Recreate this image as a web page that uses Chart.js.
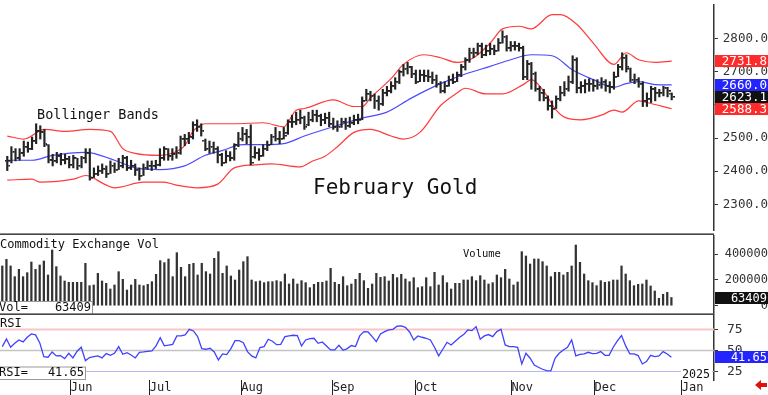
<!DOCTYPE html>
<html>
<head>
<meta charset="utf-8">
<script src="https://cdn.jsdelivr.net/npm/chart.js@4.4.1/dist/chart.umd.min.js"></script>
<style>
  html, body { margin: 0; padding: 0; background: #fff; }
  #wrap { position: relative; width: 768px; height: 395px; overflow: hidden; background: #fff; }
  #wrap canvas { position: absolute; left: 0; }
</style>
</head>
<body>
<div id="wrap">
  <canvas id="priceChart" width="768" height="235" style="top:0px"></canvas>
  <canvas id="volChart" width="768" height="80" style="top:235px"></canvas>
  <canvas id="rsiChart" width="768" height="80" style="top:315px"></canvas>
</div>
<script>
// --- DATA (one entry per trading day, index 0 = early May 2024) ---
const highs = [
  2445, 2474, 2468, 2468, 2491, 2488, 2503, 2543, 2537, 2526,
  2480, 2451, 2457, 2454, 2451, 2445, 2448, 2439, 2445, 2468,
  2468, 2410, 2416, 2422, 2416, 2431, 2425, 2439, 2448, 2445,
  2433, 2422, 2410, 2422, 2431, 2431, 2433, 2468, 2474, 2468,
  2468, 2474, 2506, 2511, 2517, 2549, 2555, 2543, 2497, 2491,
  2488, 2474, 2454, 2462, 2459, 2483, 2517, 2532, 2526, 2540,
  2474, 2468, 2480, 2491, 2511, 2532, 2520, 2532, 2555, 2569,
  2578, 2584, 2566, 2578, 2584, 2584, 2572, 2575, 2578, 2560,
  2552, 2560, 2560, 2563, 2569, 2572, 2624, 2647, 2641, 2633,
  2627, 2647, 2656, 2670, 2682, 2705, 2722, 2728, 2716, 2705,
  2705, 2705, 2705, 2699, 2690, 2670, 2670, 2687, 2693, 2699,
  2722, 2742, 2771, 2771, 2786, 2786, 2780, 2786, 2780, 2800,
  2823, 2809, 2791, 2791, 2786, 2777, 2734, 2728, 2699, 2656,
  2647, 2627, 2612, 2627, 2656, 2670, 2687, 2748, 2742, 2670,
  2676, 2679, 2676, 2676, 2682, 2676, 2670, 2699, 2722, 2757,
  2751, 2711, 2693, 2682, 2670, 2636, 2656, 2653, 2647, 2656,
  2653, 2636
];
const lows = [
  2402, 2425, 2431, 2433, 2445, 2457, 2465, 2483, 2497, 2474,
  2425, 2416, 2425, 2419, 2422, 2410, 2410, 2405, 2410, 2425,
  2373, 2381, 2387, 2393, 2381, 2393, 2396, 2405, 2410, 2402,
  2405, 2387, 2373, 2387, 2405, 2402, 2408, 2416, 2433, 2433,
  2433, 2439, 2451, 2477, 2483, 2497, 2520, 2506, 2462, 2454,
  2454, 2425, 2416, 2425, 2431, 2433, 2474, 2491, 2483, 2419,
  2439, 2433, 2445, 2462, 2480, 2491, 2483, 2497, 2511, 2532,
  2540, 2543, 2526, 2537, 2549, 2549, 2537, 2543, 2534, 2526,
  2520, 2532, 2526, 2532, 2540, 2543, 2555, 2612, 2612, 2589,
  2584, 2598, 2627, 2636, 2647, 2664, 2687, 2693, 2682, 2664,
  2670, 2670, 2670, 2664, 2653, 2636, 2636, 2656, 2664, 2670,
  2685, 2705, 2728, 2742, 2751, 2742, 2748, 2751, 2751, 2762,
  2786, 2762, 2762, 2765, 2762, 2676, 2676, 2647, 2641, 2612,
  2612, 2584, 2560, 2589, 2612, 2627, 2641, 2664, 2636, 2636,
  2636, 2641, 2641, 2647, 2650, 2641, 2636, 2647, 2685, 2705,
  2699, 2670, 2664, 2653, 2595, 2595, 2607, 2612, 2624, 2627,
  2624, 2615
];
const opens = [
  2430, 2430, 2459, 2439, 2454, 2474, 2468, 2491, 2520, 2517,
  2478, 2433, 2431, 2445, 2433, 2436, 2419, 2439, 2416, 2439,
  2454, 2381, 2393, 2402, 2408, 2393, 2416, 2405, 2416, 2439,
  2410, 2416, 2405, 2387, 2410, 2416, 2416, 2419, 2439, 2468,
  2445, 2451, 2454, 2497, 2497, 2503, 2540, 2534, 2492, 2468,
  2474, 2468, 2448, 2425, 2445, 2439, 2478, 2497, 2511, 2503,
  2442, 2454, 2445, 2468, 2480, 2503, 2497, 2497, 2514, 2549,
  2549, 2555, 2560, 2540, 2555, 2569, 2566, 2555, 2560, 2543,
  2532, 2534, 2549, 2537, 2546, 2555, 2555, 2612, 2633, 2627,
  2612, 2604, 2636, 2641, 2656, 2670, 2699, 2708, 2713, 2693,
  2670, 2690, 2687, 2685, 2676, 2664, 2641, 2656, 2676, 2670,
  2690, 2713, 2734, 2757, 2757, 2777, 2751, 2762, 2768, 2762,
  2786, 2806, 2771, 2777, 2777, 2771, 2685, 2722, 2693, 2647,
  2636, 2621, 2598, 2589, 2618, 2636, 2647, 2670, 2736, 2650,
  2656, 2664, 2664, 2656, 2661, 2670, 2656, 2653, 2685, 2713,
  2742, 2708, 2676, 2676, 2664, 2612, 2618, 2647, 2636, 2636,
  2650, 2634
];
const closes = [
  2416, 2459, 2439, 2454, 2474, 2468, 2491, 2520, 2517, 2483,
  2433, 2431, 2445, 2433, 2436, 2419, 2439, 2416, 2439, 2454,
  2381, 2393, 2402, 2408, 2393, 2416, 2405, 2416, 2439, 2410,
  2416, 2405, 2387, 2410, 2416, 2416, 2419, 2439, 2468, 2445,
  2451, 2454, 2497, 2497, 2503, 2540, 2534, 2520, 2468, 2474,
  2468, 2448, 2425, 2445, 2439, 2468, 2497, 2511, 2503, 2425,
  2454, 2445, 2468, 2480, 2503, 2497, 2497, 2506, 2549, 2549,
  2555, 2560, 2532, 2555, 2569, 2566, 2555, 2560, 2543, 2532,
  2534, 2549, 2537, 2546, 2555, 2555, 2612, 2633, 2627, 2612,
  2604, 2636, 2641, 2656, 2670, 2699, 2708, 2713, 2693, 2670,
  2690, 2687, 2685, 2676, 2664, 2641, 2656, 2676, 2670, 2690,
  2713, 2734, 2757, 2757, 2777, 2751, 2762, 2768, 2762, 2786,
  2806, 2771, 2777, 2777, 2771, 2685, 2722, 2693, 2647, 2636,
  2621, 2598, 2589, 2618, 2636, 2647, 2670, 2736, 2650, 2656,
  2664, 2664, 2656, 2661, 2670, 2656, 2653, 2685, 2713, 2742,
  2713, 2676, 2676, 2664, 2612, 2618, 2647, 2636, 2636, 2650,
  2641, 2623.1
];

// Bollinger bands, read at [day index, price]
const upperBand = [
  [0, 2506], [4, 2497], [9, 2526], [14, 2520], [20, 2526], [25, 2520], [28, 2468],
  [31, 2454], [37, 2448], [40, 2454], [43, 2477], [45, 2520], [48, 2543], [55, 2543],
  [62, 2546], [67, 2534], [70, 2584], [72, 2589], [79, 2615], [84, 2595], [86, 2595],
  [88, 2621], [93, 2679], [96, 2722], [101, 2751], [105, 2742], [109, 2728], [113, 2742],
  [117, 2786], [120, 2829], [124, 2837], [127, 2829], [132, 2872], [134, 2872], [138, 2843],
  [142, 2786], [147, 2722], [150, 2757], [153, 2736], [157, 2728], [161, 2731.8]
];
const middleBand = [
  [0, 2433], [6, 2433], [11, 2448], [19, 2457], [26, 2433], [31, 2410], [37, 2405],
  [43, 2416], [48, 2448], [52, 2462], [57, 2480], [62, 2480], [67, 2483], [72, 2506],
  [79, 2534], [86, 2560], [92, 2578], [98, 2621], [105, 2664], [111, 2693], [117, 2716],
  [122, 2736], [127, 2751], [132, 2748], [137, 2705], [142, 2676], [147, 2653], [150, 2664],
  [153, 2670], [157, 2661], [161, 2660.0]
];
const lowerBand = [
  [0, 2373], [6, 2376], [8, 2367], [16, 2376], [19, 2387], [24, 2358], [26, 2350],
  [33, 2367], [38, 2367], [41, 2358], [46, 2350], [51, 2361], [55, 2410], [60, 2419],
  [64, 2422], [71, 2413], [74, 2431], [77, 2445], [80, 2474], [84, 2517], [88, 2526],
  [93, 2506], [96, 2497], [100, 2517], [105, 2598], [109, 2636], [111, 2650], [116, 2633],
  [120, 2633], [125, 2661], [127, 2676], [130, 2641], [133, 2584], [135, 2563], [139, 2555],
  [144, 2569], [147, 2584], [149, 2578], [153, 2612], [155, 2607], [161, 2588.3]
];

const volumes = [
  308000, 359400, 308000, 225100, 281900, 225100, 256100, 338800, 281900, 315500,
  346500, 238000, 431800, 302600, 230200, 191500, 181100, 181100, 181100, 181100,
  328400, 155300, 160500, 250900, 191500, 173400, 129500, 160500, 263800, 204400,
  121700, 160500, 204400, 160500, 155300, 165600, 186300, 243200, 349100, 333600,
  362000, 225100, 411100, 297400, 225100, 320700, 328400, 238000, 328400, 263800,
  245700, 367200, 418900, 250900, 308000, 230200, 199200, 276700, 341300, 380100,
  199200, 186300, 191500, 178600, 186300, 186300, 194100, 186300, 245700, 168200,
  207000, 168200, 194100, 178600, 139800, 165600, 181100, 181100, 191500, 289700,
  181100, 165600, 225100, 155300, 168200, 204400, 250900, 194100, 134600, 168200,
  250900, 219900, 225100, 191500, 243200, 217300, 243200, 207000, 186300, 217300,
  139800, 147500, 217300, 147500, 258700, 160500, 232800, 178600, 129500, 173400,
  173400, 199200, 199200, 225100, 194100, 232800, 199200, 168200, 178600, 238000,
  217300, 281900, 207000, 160500, 183700, 418900, 385300, 323300, 362000, 362000,
  341300, 308000, 225100, 258700, 258700, 238000, 258700, 308000, 470500, 336200,
  245700, 194100, 178600, 155300, 194100, 181100, 186300, 199200, 199200, 308000,
  245700, 194100, 155300, 165600, 168200, 199200, 152700, 114000, 57100, 88100,
  103600, 63409
];

const rsiValues = [
  54.4, 63.5, 53.6, 58.3, 62.3, 59.9, 65.5, 69.4, 68.3, 59.1,
  42.5, 41.7, 48.0, 43.3, 43.7, 40.1, 46.4, 40.9, 48.8, 53.6,
  37.7, 41.3, 42.5, 43.3, 40.9, 46.0, 44.0, 46.4, 54.4, 45.2,
  47.2, 44.4, 40.9, 47.6, 48.0, 48.8, 49.2, 55.2, 65.1, 55.2,
  56.0, 57.1, 67.1, 67.1, 68.3, 75.0, 73.0, 66.3, 52.0, 51.2,
  52.4, 48.0, 38.5, 45.6, 44.8, 52.0, 61.5, 61.5, 59.1, 48.4,
  43.3, 40.9, 53.2, 54.4, 63.1, 60.7, 56.7, 57.1, 66.3, 67.1,
  67.9, 67.5, 55.2, 62.3, 63.9, 64.3, 58.3, 59.9, 55.2, 50.4,
  50.4, 56.0, 50.0, 52.0, 55.6, 54.4, 67.1, 72.2, 71.8, 66.3,
  60.3, 69.4, 72.2, 74.2, 75.0, 78.6, 79.0, 77.4, 71.8, 62.3,
  67.1, 65.5, 64.3, 62.3, 53.6, 43.3, 51.2, 59.5, 56.3, 60.7,
  65.1, 68.7, 74.2, 73.4, 78.2, 63.1, 67.1, 68.7, 66.3, 72.2,
  75.0, 56.3, 54.4, 54.4, 53.6, 33.7, 46.4, 40.5, 32.5, 29.8,
  27.4, 25.8, 25.4, 40.5, 46.4, 50.4, 53.6, 62.3, 43.3, 45.2,
  45.6, 47.6, 46.0, 46.4, 48.4, 44.0, 44.0, 53.6, 61.1, 67.5,
  55.2, 45.6, 45.6, 43.7, 33.7, 36.5, 44.0, 42.5, 43.3, 48.4,
  45.6, 41.65
];

// month boundaries (between trading days) and labels
const monthTicks = [16.5, 35.5, 57.5, 79.5, 99.5, 122.5, 142.5, 163.5];
const monthLabels = ["Jun", "Jul", "Aug", "Sep", "Oct", "Nov", "Dec", "Jan"];
const priceTicks = [2300, 2400, 2500, 2600, 2700, 2800];
const volumeTicks = [0, 200000, 400000];
const rsiTicks = [25, 50, 75];
const rsiLevels = [75, 50, 25];

// --- SHARED SETTINGS ---
const MONO = '"DejaVu Sans Mono", monospace';
const X_MIN = -0.55, X_MAX = 171.25;
const AXIS_RIGHT = 714;
const last = closes.length - 1;

function xAxis(showLabels) {
    const ax = { type: "linear", min: X_MIN, max: X_MAX, offset: false, display: showLabels, grid: { offset: false } };
    if (showLabels) {
        ax.afterBuildTicks = s => { s.ticks = monthTicks.map(v => ({ value: v })); };
        ax.afterFit = s => { s.height = 15; s.paddingLeft = 0; s.paddingRight = 0; };
        ax.grid = { offset: false, display: true, drawOnChartArea: false, drawTicks: true, tickLength: 15, color: "#222", lineWidth: 1 };
        ax.border = { display: false };
        ax.ticks = {
            autoSkip: false, maxRotation: 0, minRotation: 0, align: "start", padding: -14,
            color: "#222", font: { family: MONO, size: 12 },
            callback: (v, i) => monthLabels[i]
        };
    }
    return ax;
}

function yAxis(min, max, values, tickOpts) {
    return {
        type: "linear", position: "right", min: min, max: max,
        afterBuildTicks: s => { s.ticks = values.map(v => ({ value: v })); },
        afterFit: s => { s.width = 768 - AXIS_RIGHT; s.paddingTop = 0; s.paddingBottom = 0; },
        grid: { drawOnChartArea: false, drawTicks: true, tickLength: 4, color: "#333" },
        border: { display: true, color: "#333", width: 1.5 },
        ticks: Object.assign({ color: "#333", font: { family: MONO, size: 12 } }, tickOpts)
    };
}

function baseOptions(scales) {
    return {
        responsive: false, animation: false, devicePixelRatio: 1, events: [],
        layout: { padding: 0 },
        plugins: { legend: { display: false }, tooltip: { enabled: false } },
        scales: scales
    };
}

// small open / close tick drawn left or right of each bar
function tickImage(side) {
    const c = document.createElement("canvas");
    c.width = 6; c.height = 2;
    const g = c.getContext("2d");
    g.fillStyle = "#222";
    if (side === "right") g.fillRect(4, 0, 2, 1.5); else g.fillRect(0, 0, 2, 1.5);
    return c;
}

function valueBox(ctx, y, text, bg, size) {
    ctx.fillStyle = bg;
    ctx.fillRect(AXIS_RIGHT + 1, Math.round(y) - 6, 768 - AXIS_RIGHT - 1, 12);
    ctx.fillStyle = "#fff";
    ctx.font = size + "px " + MONO;
    ctx.textAlign = "right";
    ctx.textBaseline = "middle";
    ctx.fillText(text, 767, Math.round(y) + 0.5);
}

function labelBox(ctx, y, w, h, name, value) {
    ctx.fillStyle = "#fff";
    ctx.fillRect(-1, y, w, h);
    ctx.strokeStyle = "#999";
    ctx.lineWidth = 1;
    ctx.strokeRect(-0.5, y + 0.5, w, h);
    ctx.fillStyle = "#111";
    ctx.font = "12px " + MONO;
    ctx.textBaseline = "alphabetic";
    ctx.textAlign = "left";
    ctx.fillText(name, -1, y + h - 3);
    ctx.textAlign = "right";
    ctx.fillText(value, w - 2, y + h - 3);
}

function text(ctx, str, x, y, size) {
    ctx.fillStyle = "#111";
    ctx.font = size + "px " + MONO;
    ctx.textAlign = "left";
    ctx.textBaseline = "alphabetic";
    ctx.fillText(str, x, y);
}

// --- PRICE PANEL ---
const bandLine = (pts, color) => ({
    type: "line",
    data: pts.map(p => ({ x: p[0], y: p[1] })),
    borderColor: color, borderWidth: 1.2, pointRadius: 0,
    cubicInterpolationMode: "monotone", order: 5
});

new Chart(document.getElementById("priceChart"), {
    type: "bar",
    data: {
        datasets: [
            {
                type: "bar",
                data: highs.map((h, i) => ({ x: i, y: [lows[i], h] })),
                backgroundColor: "#222", barThickness: 1.5, grouped: false, order: 1
            },
            {
                type: "scatter",
                data: closes.map((c, i) => ({ x: i, y: c })),
                pointStyle: tickImage("right"), pointRadius: 3, order: 1
            },
            {
                type: "scatter",
                data: opens.map((o, i) => ({ x: i, y: o })),
                pointStyle: tickImage("left"), pointRadius: 3, order: 1
            },
            bandLine(upperBand, "#ff3b3b"),
            bandLine(middleBand, "#4a4aff"),
            bandLine(lowerBand, "#ff3b3b")
        ]
    },
    options: baseOptions({
        x: xAxis(false),
        y: yAxis(2222.8, 2901.0, priceTicks, { crossAlign: "far", padding: 3.5, font: { family: MONO, size: 12.5 }, callback: v => v.toFixed(1) })
    }),
    plugins: [{
        id: "priceDecor",
        afterDraw(chart) {
            const ctx = chart.ctx, y = chart.scales.y;
            ctx.save();
            text(ctx, "Bollinger Bands", 37, 119, 13.5);
            text(ctx, "February Gold", 313, 194, 21);
            ctx.fillStyle = "#444";
            ctx.fillRect(0, 233.4, AXIS_RIGHT, 1.8);
            const up = upperBand[upperBand.length - 1][1];
            const mid = middleBand[middleBand.length - 1][1];
            const low = lowerBand[lowerBand.length - 1][1];
            valueBox(ctx, y.getPixelForValue(up), up.toFixed(1), "#ff2a2a", 12.5);
            valueBox(ctx, y.getPixelForValue(mid), mid.toFixed(1), "#2424ff", 12.5);
            valueBox(ctx, y.getPixelForValue(low), low.toFixed(1), "#ff2a2a", 12.5);
            valueBox(ctx, y.getPixelForValue(closes[last]), closes[last].toFixed(1), "#111", 12.5);
            ctx.restore();
        }
    }]
});

// --- VOLUME PANEL ---
new Chart(document.getElementById("volChart"), {
    type: "bar",
    data: {
        datasets: [{
            data: volumes.map((v, i) => ({ x: i, y: v })),
            backgroundColor: "#333", barThickness: 1.6, grouped: false
        }]
    },
    options: baseOptions({
        x: xAxis(false),
        y: yAxis(-72093, 548062, volumeTicks, { crossAlign: "far", padding: 5.5, callback: v => String(v) })
    }),
    plugins: [{
        id: "volDecor",
        afterDraw(chart) {
            const ctx = chart.ctx, y = chart.scales.y;
            ctx.save();
            text(ctx, "Commodity Exchange Vol", 0, 12.5, 12);
            text(ctx, "Volume", 463, 22, 10.5);
            labelBox(ctx, 66, 93, 13, "Vol=", String(volumes[last]));
            ctx.fillStyle = "#444";
            ctx.fillRect(0, 78.4, AXIS_RIGHT, 1.8);
            valueBox(ctx, y.getPixelForValue(volumes[last]), String(volumes[last]), "#111", 12);
            ctx.restore();
        }
    }]
});

// --- RSI PANEL ---
new Chart(document.getElementById("rsiChart"), {
    type: "line",
    data: {
        datasets: [{
            data: rsiValues.map((v, i) => ({ x: i, y: v })),
            borderColor: "#4040ff", borderWidth: 1.3, pointRadius: 0, tension: 0
        }]
    },
    options: baseOptions({
        x: xAxis(true),
        y: yAxis(14.6, 92.0, rsiTicks, { crossAlign: "near", padding: 9, font: { family: MONO, size: 13 } })
    }),
    plugins: [{
        id: "rsiDecor",
        beforeDatasetsDraw(chart) {
            const ctx = chart.ctx, y = chart.scales.y, a = chart.chartArea;
            const colors = ["#f8c6c6", "#c4c4c4", "#b6b6f6"];
            const widths = [2, 1.5, 1];
            ctx.save();
            rsiLevels.forEach((lv, k) => {
                const py = Math.round(y.getPixelForValue(lv)) + 0.5;
                ctx.strokeStyle = colors[k];
                ctx.lineWidth = widths[k];
                ctx.beginPath();
                ctx.moveTo(a.left, py);
                ctx.lineTo(a.right, py);
                ctx.stroke();
            });
            ctx.restore();
        },
        afterDraw(chart) {
            const ctx = chart.ctx, y = chart.scales.y;
            ctx.save();
            text(ctx, "RSI", 0, 11.7, 12);
            labelBox(ctx, 51.5, 86, 12.5, "RSI=", rsiValues[last].toFixed(2));
            ctx.fillStyle = "#fff";
            ctx.fillRect(681, 52, 31, 12);
            text(ctx, "2025", 682, 63, 11.7);
            valueBox(ctx, y.getPixelForValue(rsiValues[last]), rsiValues[last].toFixed(2), "#2424ff", 12);
            // little red arrow at bottom right
            ctx.fillStyle = "#e01010";
            ctx.beginPath();
            ctx.moveTo(755, 70);
            ctx.lineTo(761, 65);
            ctx.lineTo(761, 68);
            ctx.lineTo(767, 68);
            ctx.lineTo(767, 72);
            ctx.lineTo(761, 72);
            ctx.lineTo(761, 75);
            ctx.closePath();
            ctx.fill();
            ctx.restore();
        }
    }]
});
</script>
</body>
</html>
